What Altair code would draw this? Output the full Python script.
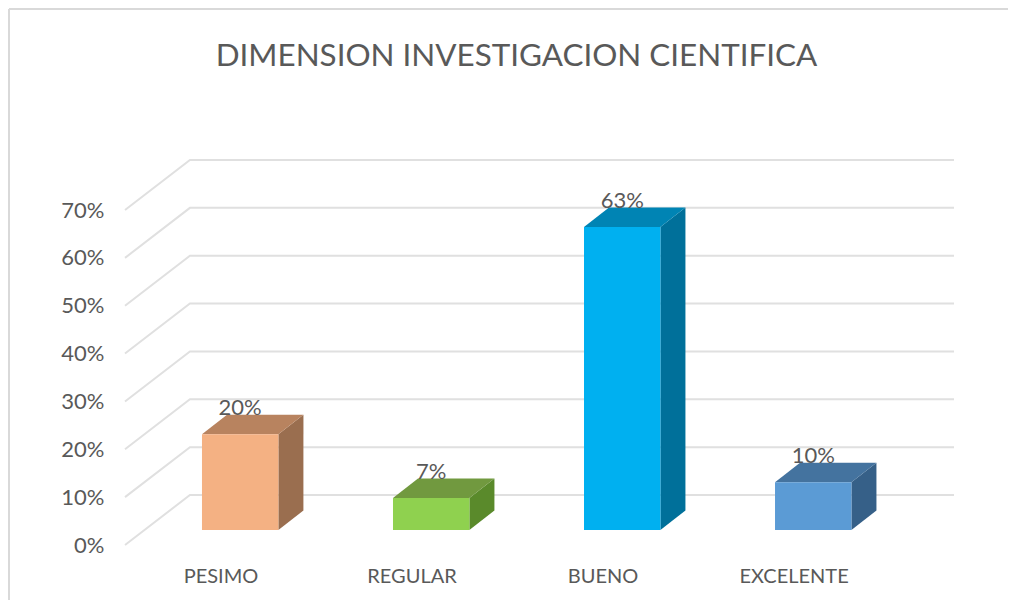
import json
import altair as alt
import pandas as pd

TITLE = "DIMENSION INVESTIGACION CIENTIFICA"
categories = ["PESIMO", "REGULAR", "BUENO", "EXCELENTE"]
values = [0.20, 0.0667, 0.6333, 0.10]
labels = ["20%", "7%", "63%", "10%"]
ticks = [0.0, 0.1, 0.2, 0.3, 0.4, 0.5, 0.6, 0.7]
front_colors = ["#F4B183", "#8FD14F", "#00B0F0", "#5B9BD5"]
top_colors = ["#B8835F", "#71993F", "#0084B4", "#44739F"]
side_colors = ["#9A6E4F", "#5A8A2B", "#00709A", "#366088"]

# Geometry of the pseudo-3D box, in data units
WALL_DX = 0.34      # floor depth, horizontally (category slots)
WALL_DY = 0.1045    # floor depth, vertically (share)
X_MAX = 4.34
Y_MAX = 0.8045
BAR_CENTER = 0.603
BAR_W = 0.40
BAR_DX = 0.131
BAR_DY = 0.0407
BAR_BASE = 0.0313

x_scale = alt.Scale(domain=[0, X_MAX], nice=False, zero=False)
y_scale = alt.Scale(domain=[0, Y_MAX], nice=False, zero=False)
GRID = "#E0E0E0"
TEXT = "#595959"
FONT = "Lato"

grid_rows = []
for t in ticks:
    grid_rows += [
        {"t": t, "o": 0, "x": 0.0, "y": t},
        {"t": t, "o": 1, "x": WALL_DX, "y": t + WALL_DY},
        {"t": t, "o": 2, "x": X_MAX, "y": t + WALL_DY},
    ]
grid = pd.DataFrame(grid_rows)

front_rows, top_rows, side_rows, label_rows = [], [], [], []
for i, (c, v) in enumerate(zip(categories, values)):
    x0 = i + BAR_CENTER - BAR_W / 2
    x1 = i + BAR_CENTER + BAR_W / 2
    y0 = BAR_BASE
    y1 = BAR_BASE + v
    front_rows.append({"c": c, "x0": x0, "x1": x1, "y0": y0, "y1": y1, "col": front_colors[i]})
    top_rows += [
        {"c": c, "y": y1, "xa": x0, "xb": x1, "col": top_colors[i]},
        {"c": c, "y": y1 + BAR_DY, "xa": x0 + BAR_DX, "xb": x1 + BAR_DX, "col": top_colors[i]},
    ]
    side_rows += [
        {"c": c, "x": x1, "ya": y0, "yb": y1, "col": side_colors[i]},
        {"c": c, "x": x1 + BAR_DX, "ya": y0 + BAR_DY, "yb": y1 + BAR_DY, "col": side_colors[i]},
    ]
    label_rows.append({"x": (x0 + x1) / 2, "y": y1, "label": labels[i]})

front = pd.DataFrame(front_rows)
top = pd.DataFrame(top_rows)
side = pd.DataFrame(side_rows)
lab = pd.DataFrame(label_rows)

x_axis = alt.Axis(
    values=[0.5, 1.5, 2.5, 3.5],
    labelExpr=f"{json.dumps(categories)}[floor(datum.value)]",
    title=None, domain=False, ticks=False, grid=False,
    labelFont=FONT, labelFontSize=20, labelColor=TEXT, labelPadding=21,
)
y_axis = alt.Axis(
    values=ticks, format=".0%", title=None, domain=False, ticks=False, grid=False,
    labelFont=FONT, labelFontSize=22, labelColor=TEXT, labelPadding=21,
)

grid_layer = alt.Chart(grid).mark_line(color=GRID, strokeWidth=2).encode(
    x=alt.X("x:Q", scale=x_scale, axis=x_axis),
    y=alt.Y("y:Q", scale=y_scale, axis=y_axis),
    detail="t:N",
    order="o:Q",
)
front_layer = alt.Chart(front).mark_rect().encode(
    x=alt.X("x0:Q", scale=x_scale, axis=x_axis),
    x2="x1:Q",
    y=alt.Y("y0:Q", scale=y_scale, axis=y_axis),
    y2="y1:Q",
    color=alt.Color("col:N", scale=None),
)
top_layer = alt.Chart(top).mark_area(orient="horizontal").encode(
    y=alt.Y("y:Q", scale=y_scale, axis=y_axis),
    x=alt.X("xa:Q", scale=x_scale, axis=x_axis),
    x2="xb:Q",
    color=alt.Color("col:N", scale=None),
    detail="c:N",
)
side_layer = alt.Chart(side).mark_area().encode(
    x=alt.X("x:Q", scale=x_scale, axis=x_axis),
    y=alt.Y("ya:Q", scale=y_scale, axis=y_axis),
    y2="yb:Q",
    color=alt.Color("col:N", scale=None),
    detail="c:N",
)
label_layer = alt.Chart(lab).mark_text(
    font=FONT, fontSize=22, color=TEXT, baseline="middle", dy=-26
).encode(
    x=alt.X("x:Q", scale=x_scale, axis=x_axis),
    y=alt.Y("y:Q", scale=y_scale, axis=y_axis),
    text="label:N",
)
border_left = alt.Chart(pd.DataFrame({"a": [0]})).mark_rule(color="#D9D9D9", strokeWidth=2).encode(
    x=alt.value(-116), y=alt.value(-151), y2=alt.value(440)
)
border_top = alt.Chart(pd.DataFrame({"a": [0]})).mark_rule(color="#D9D9D9", strokeWidth=2).encode(
    x=alt.value(-116), x2=alt.value(883), y=alt.value(-151)
)

chart = alt.layer(
    border_left, border_top, grid_layer, side_layer, top_layer, front_layer, label_layer
).properties(
    width=829,
    height=385,
    padding={"left": 117, "top": 152, "right": 54, "bottom": 63},
    autosize=alt.AutoSizeParams(type="none"),
    background="white",
    title=alt.TitleParams(
        TITLE, font=FONT, fontSize=31.4, fontWeight="normal", color=TEXT,
        anchor="middle", frame="group", dx=-23, offset=-96, baseline="bottom",
    ),
).configure_view(stroke=None)

chart.save("out.html", embed_options={"renderer": "svg", "actions": False})
